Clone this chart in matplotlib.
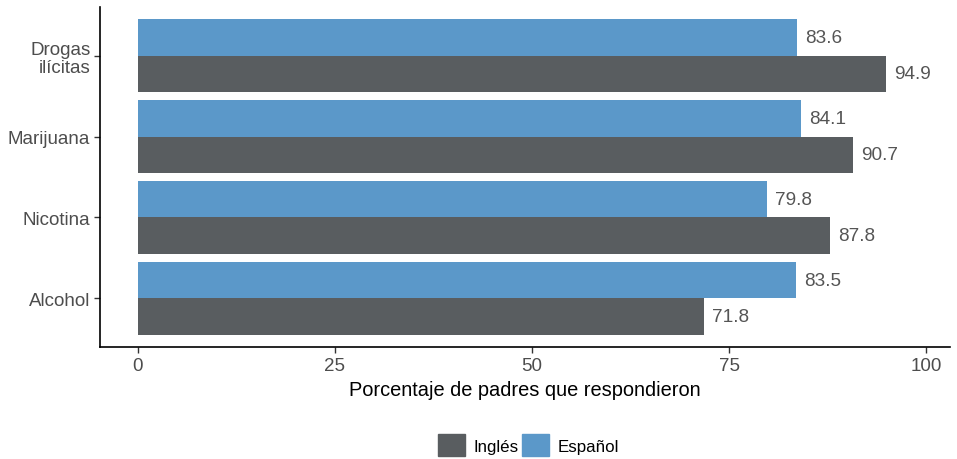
import numpy as np
import matplotlib.pyplot as plt
from matplotlib.patches import Patch

plt.rcParams['font.family'] = ['Liberation Sans', 'DejaVu Sans']

categories = ['Alcohol', 'Nicotina', 'Marijuana', 'Drogas\nilícitas']
ingles = [71.8, 87.8, 90.7, 94.9]
espanol = [83.5, 79.8, 84.1, 83.6]
series_names = ['Inglés', 'Español']
col_ingles = '#595d60'
col_espanol = '#5b98c9'

fig = plt.figure(figsize=(9.57, 4.6), dpi=100)
ax = fig.add_axes([0.1045, 0.2435, 0.888, 0.739])

y = np.arange(len(categories))
h = 0.45
ax.barh(y - h / 2, ingles, height=h, color=col_ingles)
ax.barh(y + h / 2, espanol, height=h, color=col_espanol)

# value labels to the right of each bar
for yi, v in zip(y - h / 2, ingles):
    ax.text(v + 1, yi, f'{v:.1f}', va='center', ha='left', fontsize=13.7, color='#555555')
for yi, v in zip(y + h / 2, espanol):
    ax.text(v + 1, yi, f'{v:.1f}', va='center', ha='left', fontsize=13.7, color='#555555')

ax.set_xlim(-4.8, 103)
ax.set_ylim(-0.6, 3.6)
ax.set_yticks(y)
ax.set_yticklabels(categories, fontsize=13.5, color='#4d4d4d', linespacing=1.1)
for lab in ax.get_yticklabels():
    lab.set_multialignment('right')
ax.set_xticks([0, 25, 50, 75, 100])
ax.set_xticklabels(['0', '25', '50', '75', '100'], fontsize=13.5, color='#4d4d4d')
ax.tick_params(axis='both', length=4, width=1, color='#333333')
ax.tick_params(axis='y', pad=3)
ax.set_xlabel('Porcentaje de padres que respondieron', fontsize=14.4, color='black', labelpad=4)

for s in ['top', 'right']:
    ax.spines[s].set_visible(False)
for s in ['left', 'bottom']:
    ax.spines[s].set_linewidth(1.2)

handles = [Patch(color=col_ingles), Patch(color=col_espanol)]
fig.legend(handles, series_names, loc='center', bbox_to_anchor=(0.552, 0.03), ncol=2,
           frameon=False, fontsize=12.2, handlelength=1.6, handleheight=1.6,
           handletextpad=0.5, columnspacing=0.2)

fig.savefig('out.png', dpi=100)
